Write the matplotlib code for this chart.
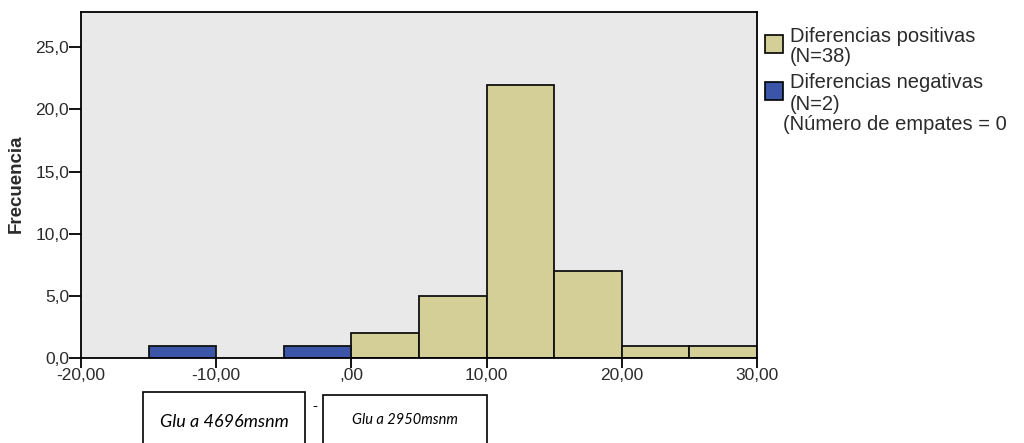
import matplotlib
matplotlib.use("Agg")
import matplotlib.pyplot as plt
from matplotlib.patches import Rectangle

# Data
bin_edges_pos = [0, 5, 10, 15, 20, 25]
counts_pos = [2, 5, 22, 7, 1, 1]
bin_edges_neg = [-15, -5]
counts_neg = [1, 1]
bin_width = 5
x_ticks = [-20, -10, 0, 10, 20, 30]
x_ticklabels = ["-20,00", "-10,00", ",00", "10,00", "20,00", "30,00"]
y_ticks = [0, 5, 10, 15, 20, 25]
y_ticklabels = ["0,0", "5,0", "10,0", "15,0", "20,0", "25,0"]
legend_lines_pos = ["Diferencias positivas", "(N=38)"]
legend_lines_neg = ["Diferencias negativas", "(N=2)"]
tie_text = "(Número de empates = 0"
box_labels = ["Glu a 4696msnm", "Glu a 2950msnm"]

col_pos = "#d4cf96"
col_neg = "#3b56a8"
txt_col = "#2b2b2b"

plt.rcParams['font.family'] = ['Liberation Sans', 'DejaVu Sans']

W, H = 1024, 443
fig = plt.figure(figsize=(W/100, H/100), dpi=100)

def fx(px):
    return px / W

def fy(py):
    return 1 - py / H

ax = fig.add_axes([fx(81), fy(358), 676/W, 345.5/H])
ax.set_facecolor("#e9e9e9")

ax.bar(bin_edges_pos, counts_pos, width=bin_width, align='edge', color=col_pos,
       edgecolor='#111111', linewidth=1.3)
ax.bar(bin_edges_neg, counts_neg, width=bin_width, align='edge', color=col_neg,
       edgecolor='#111111', linewidth=1.3)

ax.set_xlim(-20, 30)
ax.set_ylim(0, 27.8)
ax.set_xticks(x_ticks)
ax.set_xticklabels(x_ticklabels, fontsize=12.5, color=txt_col)
ax.set_yticks(y_ticks)
ax.set_yticklabels(y_ticklabels, fontsize=12.5, color=txt_col)
ax.tick_params(axis='y', direction='out', length=8.5, width=1.3, pad=0)
ax.tick_params(axis='x', direction='out', length=7, width=1.3, pad=0.5)
for s in ax.spines.values():
    s.set_linewidth(1.3)
fig.text(fx(16), fy(184), "Frecuencia", rotation=90, fontsize=13.5, fontweight='bold',
         ha='center', va='center', color=txt_col)

# Legend (drawn at the positions of the reference legend)
leg_fs = 14.5
fig.patches.append(Rectangle((fx(765), fy(53)), 18/W, 18/H, transform=fig.transFigure,
                             facecolor=col_pos, edgecolor='black', linewidth=1.2))
fig.patches.append(Rectangle((fx(765), fy(100)), 18/W, 18/H, transform=fig.transFigure,
                             facecolor=col_neg, edgecolor='black', linewidth=1.2))
for yy, t in zip([37, 57], legend_lines_pos):
    fig.text(fx(790), fy(yy), t, fontsize=leg_fs, ha='left', va='center', color=txt_col)
for yy, t in zip([83, 104], legend_lines_neg):
    fig.text(fx(790), fy(yy), t, fontsize=leg_fs, ha='left', va='center', color=txt_col)
fig.text(fx(783), fy(124), tie_text, fontsize=leg_fs, ha='left', va='center', color=txt_col)

# Boxes below
fig.patches.append(Rectangle((fx(143), -0.05), 162/W, 0.05 + 51/H, transform=fig.transFigure,
                             facecolor='white', edgecolor='black', linewidth=1.2))
fig.patches.append(Rectangle((fx(323), -0.05), 164/W, 0.05 + 48/H, transform=fig.transFigure,
                             facecolor='white', edgecolor='black', linewidth=1.2))
fig.text(fx(224), fy(422), box_labels[0], fontsize=13, style='italic', family='Lato',
         ha='center', va='center')
fig.text(fx(405), fy(420), box_labels[1], fontsize=10.5, style='italic', family='Lato',
         ha='center', va='center')
fig.text(fx(315), fy(406), "-", fontsize=11, ha='center', va='center')

fig.savefig("out.png", dpi=100, facecolor='white')
